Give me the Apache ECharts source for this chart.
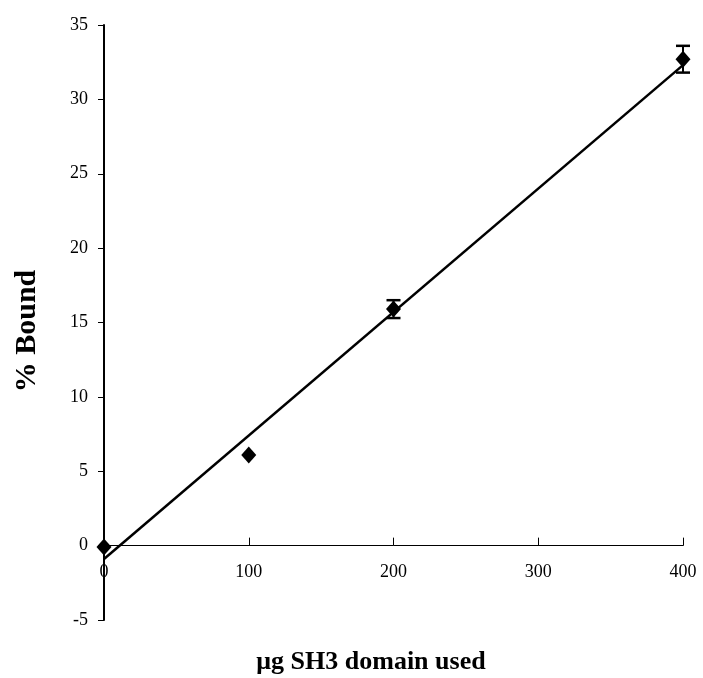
<!DOCTYPE html>
<html><head><meta charset="utf-8">
<script src="https://cdn.jsdelivr.net/npm/echarts@6/dist/echarts.min.js"></script>
<style>html,body{margin:0;padding:0;background:#fff}#c{width:703px;height:678px}</style>
</head><body><div id="c"></div>
<script>
const xValues = [0, 100, 200, 400];
const yValues = [-0.1, 6.1, 15.9, 32.7];
const yErrors = [0, 0, 0.6, 0.9];
const trendX = [0, 400];
const trendY = [-0.9, 32.3];
const yTicks = [-5, 0, 5, 10, 15, 20, 25, 30, 35];
const xTicks = [0, 100, 200, 300, 400];

const chart = echarts.init(document.getElementById('c'));
const font = '"Liberation Serif", "Times New Roman", serif';
chart.setOption({
  animation: false,
  grid: {left: 104, right: 20, top: 25, bottom: 58},
  xAxis: {
    type: 'value', min: xTicks[0], max: xTicks[xTicks.length-1], interval: 100,
    axisLine: {onZero: true, lineStyle: {color: '#000', width: 1}},
    axisTick: {inside: true, length: 8, lineStyle: {color: '#000'}},
    axisLabel: {margin: -57, fontFamily: font, fontSize: 18, color: '#000'},
    splitLine: {show: false}
  },
  yAxis: {
    type: 'value', min: yTicks[0], max: yTicks[yTicks.length-1], interval: 5,
    axisLine: {show: true, onZero: false, lineStyle: {color: '#000', width: 2}},
    axisTick: {show: true, length: 6, lineStyle: {color: '#000', width: 1}},
    axisLabel: {margin: 16, fontFamily: font, fontSize: 18, color: '#000'},
    splitLine: {show: false}
  },
  graphic: [
    {type: 'text', x: 371, y: 662, style: {text: 'μg SH3 domain used', font: 'bold 26px ' + font, fill: '#000', textAlign: 'center', textVerticalAlign: 'middle'}},
    {type: 'text', x: 27, y: 331, rotation: Math.PI/2, style: {text: '% Bound', font: 'bold 30px ' + font, fill: '#000', textAlign: 'center', textVerticalAlign: 'middle'}}
  ],
  series: [
    {
      type: 'line', data: trendX.map((x, i) => [x, trendY[i]]), symbol: 'none',
      lineStyle: {color: '#000', width: 2.5}, z: 2
    },
    {
      type: 'custom',
      data: xValues.map((x, i) => [x, yValues[i], yErrors[i]]),
      renderItem: function (params, api) {
        const x = api.value(0), y = api.value(1), e = api.value(2);
        if (!e) return null;
        const top = api.coord([x, y + e]);
        const bot = api.coord([x, y - e]);
        const w = 7;
        return {type: 'group', children: [
          {type: 'line', shape: {x1: top[0], y1: top[1], x2: bot[0], y2: bot[1]}, style: {stroke: '#000', lineWidth: 2}},
          {type: 'line', shape: {x1: top[0]-w, y1: top[1], x2: top[0]+w, y2: top[1]}, style: {stroke: '#000', lineWidth: 2.5}},
          {type: 'line', shape: {x1: bot[0]-w, y1: bot[1], x2: bot[0]+w, y2: bot[1]}, style: {stroke: '#000', lineWidth: 2.5}}
        ]};
      },
      z: 3
    },
    {
      type: 'scatter', data: xValues.map((x, i) => [x, yValues[i]]),
      symbol: 'diamond', symbolSize: [15, 17], itemStyle: {color: '#000', opacity: 1}, z: 4
    }
  ]
});
</script></body></html>
